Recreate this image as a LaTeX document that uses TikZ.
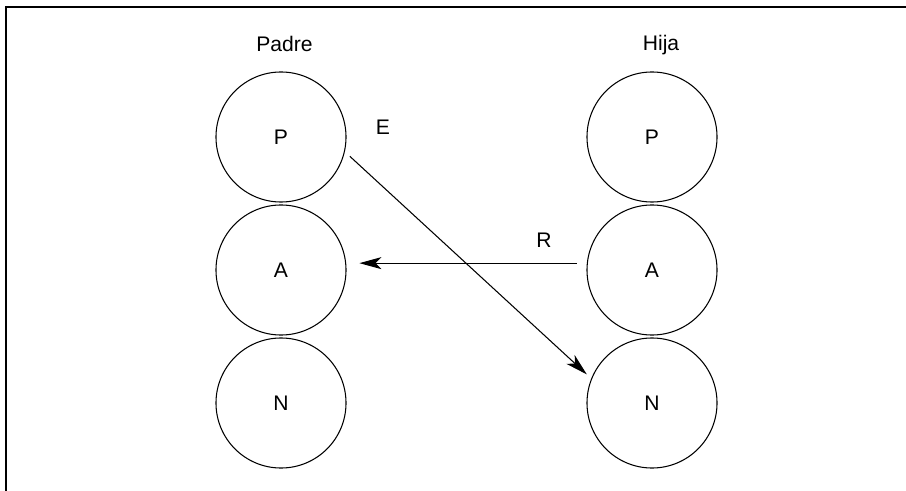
\documentclass[tikz,border=0pt]{standalone}
\usepackage{fontspec}
\setmainfont{Liberation Sans}
\usetikzlibrary{arrows.meta}

\begin{document}
\begin{tikzpicture}[x=0.025cm,y=-0.025cm]
    \pgfmathsetmacro{\leftcol}{281}
    \pgfmathsetmacro{\rightcol}{652}
    \pgfmathsetmacro{\toprow}{137}
    \pgfmathsetmacro{\rowsep}{133}  % circles almost touch
    \providecommand{\labelfontsize}{\fontsize{15pt}{17pt}\selectfont}
    \tikzset{proc/.style={circle,draw,line width=0.75pt,minimum size=3.25cm,inner sep=0,font=\labelfontsize},
             tag/.style={anchor=base,inner sep=0,font=\labelfontsize},
             msg/.style={line width=0.75pt,-{Stealth[length=5.5mm,width=3mm,inset=1.5mm]}}}
    \useasboundingbox (0,0) rectangle (906,491);
    \draw[line width=1.4pt] (906,7) -- (6,7) -- (6,491);
    % parent process
    \node[tag](padre) at (284.5,52){Padre};
    \node[proc](lP) at (\leftcol,\toprow){P};
    \node[proc](lA) at (\leftcol,\toprow+\rowsep){A};
    \node[proc](lN) at (\leftcol,\toprow+2*\rowsep){N};
    % child process
    \node[tag](hija) at (661,51){Hija};
    \node[proc](hP) at (\rightcol,\toprow){P};
    \node[proc](hA) at (\rightcol,\toprow+\rowsep){A};
    \node[proc](hN) at (\rightcol,\toprow+2*\rowsep){N};
    % messages
    \draw[msg,shorten <=0.17cm,shorten >=0.15cm] (lP.-13) -- (hN.158.5);
    \draw[msg,shorten <=0.25cm,shorten >=0.33cm] (hA.174) -- (lA.6);
    \node[tag](e) at (383,135){E};
    \node[tag](r) at (544,247){R};
\end{tikzpicture}
\end{document}
